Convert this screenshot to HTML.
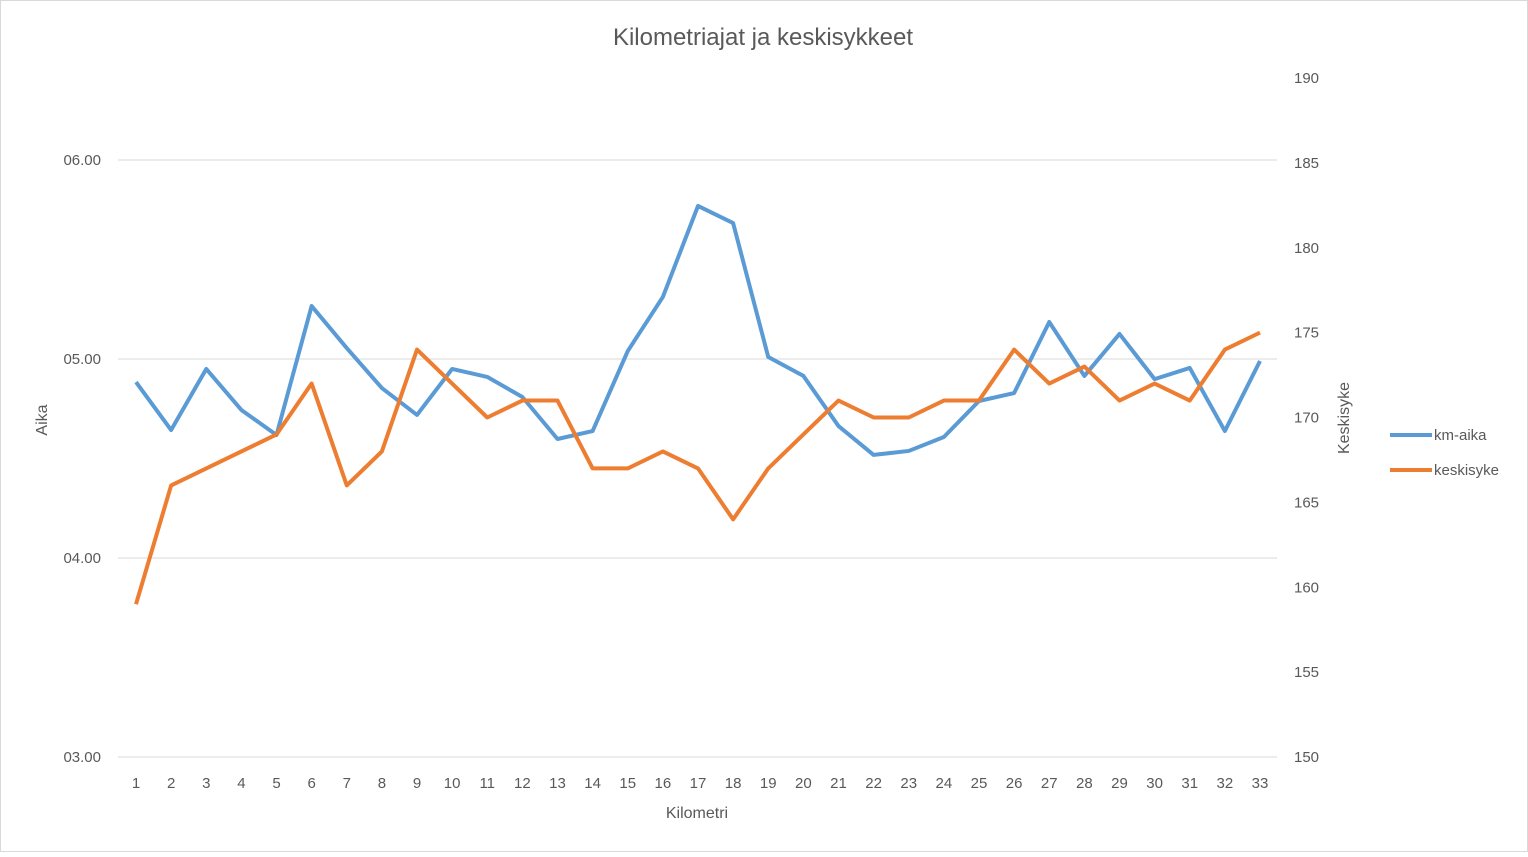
<!DOCTYPE html>
<html><head><meta charset="utf-8"><style>
body{margin:0;background:#fff;}
svg text{font-family:"Liberation Sans",sans-serif;fill:#595959;}
</style></head><body>
<svg width="1528" height="852">
<rect x="0.5" y="0.5" width="1527" height="851" fill="#fff" stroke="#d9d9d9"/>
<text x="763" y="45" font-size="24" text-anchor="middle">Kilometriajat ja keskisykkeet</text>
<g id="grid"></g><g id="ticks"></g><g id="series"></g>
<text transform="translate(47,420) rotate(-90)" font-size="16" text-anchor="middle">Aika</text>
<text transform="translate(1349,418) rotate(-90)" font-size="16" text-anchor="middle">Keskisyke</text>
<text x="697" y="818" font-size="16" text-anchor="middle">Kilometri</text>
<g><line x1="1390" y1="435" x2="1432" y2="435" stroke="#5b9bd5" stroke-width="4"/><text x="1434" y="440" font-size="15">km-aika</text></g>
<g><line x1="1390" y1="470" x2="1432" y2="470" stroke="#ed7d31" stroke-width="4"/><text x="1434" y="475" font-size="15">keskisyke</text></g>
</svg>
<script>
const categories=[1,2,3,4,5,6,7,8,9,10,11,12,13,14,15,16,17,18,19,20,21,22,23,24,25,26,27,28,29,30,31,32,33];
const kmAika=[4.884,4.643,4.95,4.744,4.618,5.266,5.055,4.854,4.719,4.95,4.91,4.809,4.598,4.638,5.04,5.312,5.769,5.683,5.01,4.915,4.663,4.518,4.538,4.608,4.789,4.829,5.186,4.915,5.126,4.899,4.955,4.638,4.99];
const keskisyke=[159,166,167,168,169,172,166,168,174,172,170,171,171,167,167,168,167,164,167,169,171,170,170,171,171,174,172,173,171,172,171,174,175];
const leftTicks=["03.00","04.00","05.00","06.00"];
const rightTicks=[150,155,160,165,170,175,180,185,190];
const NS="http://www.w3.org/2000/svg";
const xS=i=>136+i*(1260-136)/32;
const yL=v=>757-(v-3)*199;
const yR=v=>757-(v-150)*679/40;
const grid=document.getElementById('grid'),ticks=document.getElementById('ticks'),ser=document.getElementById('series');
function mk(tag,attrs,parent){const e=document.createElementNS(NS,tag);for(const k in attrs)e.setAttribute(k,attrs[k]);parent.appendChild(e);return e;}
leftTicks.forEach((t,i)=>{
 const y=yL(3+i);
 const l=mk('line',{x1:118,x2:1277,y1:y,y2:y,stroke:'#d9d9d9','stroke-width':1},grid);
 
 
 const tx=mk('text',{x:101,y:y+5,'font-size':15,'text-anchor':'end'},ticks);tx.textContent=t;
 
 
});
rightTicks.forEach(t=>{
 const tx=mk('text',{x:1294,y:yR(t)+5,'font-size':15},ticks);tx.textContent=t;
 
 
});
categories.forEach((c,i)=>{
 const tx=mk('text',{x:xS(i),y:788,'font-size':15,'text-anchor':'middle'},ticks);tx.textContent=c;
 
 
});
const p1=mk('polyline',{points:kmAika.map((v,i)=>xS(i)+','+yL(v)).join(' '),fill:'none',stroke:'#5b9bd5','stroke-width':4,'stroke-linejoin':'round'},ser);


const p2=mk('polyline',{points:keskisyke.map((v,i)=>xS(i)+','+yR(v)).join(' '),fill:'none',stroke:'#ed7d31','stroke-width':4,'stroke-linejoin':'round'},ser);


</script>
</body></html>
